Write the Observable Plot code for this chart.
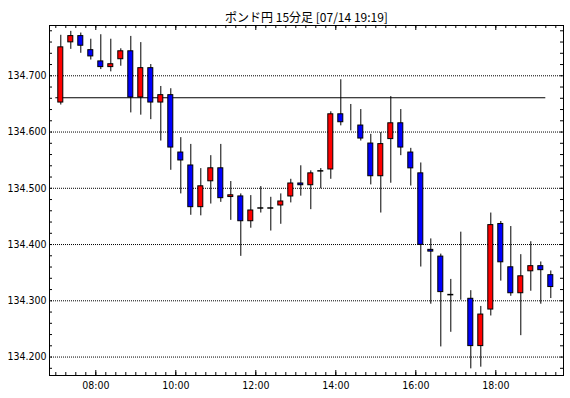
<!DOCTYPE html>
<html>
<head>
<meta charset="utf-8">
<script src="https://cdn.jsdelivr.net/npm/d3@7"></script>
<script src="https://cdn.jsdelivr.net/npm/@observablehq/plot@0.6"></script>
<style>
  html, body { margin: 0; padding: 0; background: #fff; }
  #chart svg { display: block; }
</style>
</head>
<body>
<div id="chart"></div>
<script>
const title = "ポンド円 15分足 [07/14 19:19]";
const times = ["07:00","07:15","07:30","07:45","08:00","08:15","08:30","08:45",
  "09:00","09:15","09:30","09:45","10:00","10:15","10:30","10:45",
  "11:00","11:15","11:30","11:45","12:00","12:15","12:30","12:45",
  "13:00","13:15","13:30","13:45","14:00","14:15","14:30","14:45",
  "15:00","15:15","15:30","15:45","16:00","16:15","16:30","16:45",
  "17:00","17:15","17:30","17:45","18:00","18:15","18:30","18:45",
  "19:00","19:15"];
const open = [134.648,134.755,134.775,134.750,134.730,134.711,134.725,134.748,
  134.657,134.718,134.648,134.670,134.568,134.545,134.462,134.508,
  134.540,134.480,134.490,134.437,134.465,134.465,134.465,134.481,
  134.513,134.501,134.531,134.529,134.636,134.613,134.616,134.584,
  134.517,134.583,134.620,134.568,134.531,134.395,134.383,134.311,
  134.311,134.308,134.215,134.280,134.441,134.364,134.309,134.348,
  134.366,134.350];
const high = [134.772,134.779,134.776,134.765,134.773,134.765,134.748,134.770,
  134.759,134.720,134.681,134.677,134.590,134.578,134.535,134.558,
  134.578,134.512,134.490,134.487,134.503,134.484,134.490,134.516,
  134.540,134.531,134.535,134.636,134.693,134.649,134.640,134.596,
  134.599,134.663,134.640,134.571,134.545,134.410,134.383,134.338,
  134.422,134.318,134.290,134.456,134.441,134.432,134.382,134.405,
  134.369,134.353];
const low = [134.648,134.747,134.740,134.728,134.711,134.707,134.717,134.634,
  134.630,134.622,134.584,134.532,134.490,134.452,134.451,134.472,
  134.475,134.443,134.379,134.429,134.456,134.424,134.436,134.474,
  134.486,134.462,134.499,134.516,134.611,134.602,134.584,134.506,
  134.456,134.509,134.558,134.504,134.360,134.294,134.218,134.244,
  134.301,134.179,134.182,134.273,134.335,134.308,134.238,134.317,
  134.294,134.304];
const close = [134.755,134.775,134.749,134.730,134.711,134.725,134.748,134.657,
  134.718,134.648,134.670,134.568,134.545,134.462,134.508,134.540,
  134.478,134.492,134.437,134.465,134.465,134.465,134.481,134.513,
  134.501,134.531,134.531,134.636,134.613,134.616,134.584,134.517,
  134.583,134.620,134.568,134.531,134.395,134.383,134.311,134.311,
  134.309,134.215,134.280,134.439,134.364,134.309,134.348,134.366,
  134.350,134.320];
const refLevel = 134.661;
const yLabelTicks = [134.2, 134.3, 134.4, 134.5, 134.6, 134.7];
const xStart = "06:50:33", xEnd = "19:41:33";
const yMin = 134.1672, yMax = 134.7894;

const toDate = (s) => {
  const [h, m, sec = 0] = s.split(":").map(Number);
  return new Date(Date.UTC(2020, 6, 14, h, m, sec));
};
const MIN15 = 15 * 60 * 1000;
const data = times.map((t, i) => {
  const t0 = toDate(t);
  return {t0, t1: new Date(+t0 + MIN15), tm: new Date(+t0 + MIN15 / 2),
    open: open[i], high: high[i], low: low[i], close: close[i]};
});
const dojis = data.filter(d => Math.abs(d.close - d.open) < 0.002);

const W = 570, H = 398, mL = 49, mR = 7, mT = 25, mB = 23;
const frameH = H - mT - mB, frameW = W - mL - mR;
const xDomain = [toDate(xStart), toDate(xEnd)];
const xMinor = d3.utcMinute.every(15).range(xDomain[0], xDomain[1]);
const xMajor = d3.utcHour.every(2).range(xDomain[0], xDomain[1]);
const yMinor = d3.range(134.18, 134.7801, 0.02).map(v => +v.toFixed(2));
const font = "'DejaVu Sans Condensed', 'DejaVu Sans', sans-serif";

const chart = Plot.plot({
  width: W, height: H,
  marginLeft: mL, marginRight: mR, marginTop: mT, marginBottom: mB,
  style: {fontFamily: font, fontSize: "10.5px", background: "#fff", color: "#000"},
  x: {type: "utc", domain: xDomain, axis: null},
  y: {domain: [yMin, yMax], axis: null},
  marks: [
    Plot.ruleY(yLabelTicks, {y: d => d, stroke: "#000", strokeWidth: 1, strokeDasharray: "1,1"}),
    Plot.ruleY([refLevel], {y: d => d, x1: data[0].t0, x2: data[data.length - 1].t0, stroke: "#000", strokeWidth: 1.2}),
    Plot.tickX(xMinor, {x: d => d, insetBottom: frameH - 3, stroke: "#000"}),
    Plot.tickX(xMinor, {x: d => d, insetTop: frameH - 3, stroke: "#000"}),
    Plot.tickX(xMajor, {x: d => d, insetBottom: frameH - 5, stroke: "#000"}),
    Plot.tickX(xMajor, {x: d => d, insetTop: frameH - 5, stroke: "#000"}),
    Plot.tickY(yMinor, {y: d => d, insetRight: frameW - 3, stroke: "#000"}),
    Plot.tickY(yMinor, {y: d => d, insetLeft: frameW - 3, stroke: "#000"}),
    Plot.ruleX(data, {x: "tm", y1: "low", y2: "high", stroke: "#000", strokeWidth: 1}),
    Plot.rect(data, {x1: "t0", x2: "t1", y1: "open", y2: "close", inset: 2.5,
      fill: d => d.close >= d.open ? "#ff0000" : "#0000ff", stroke: "#000", strokeWidth: 1}),
    Plot.ruleY(dojis, {y: "close", x1: "t0", x2: "t1", insetLeft: 2, insetRight: 2, stroke: "#000", strokeWidth: 1.5}),
    Plot.frame({stroke: "#000", strokeWidth: 1}),
    Plot.axisY(yLabelTicks, {anchor: "left", tickSize: 0, tickPadding: 3, tickFormat: d3.format(".3f"), label: null, fontSize: 10.5}),
    Plot.axisX(xMajor, {anchor: "bottom", tickSize: 0, tickPadding: 6, tickFormat: d3.utcFormat("%H:%M"), label: null, fontSize: 10.5}),
    Plot.text([title], {text: d => d, frameAnchor: "top", dy: -12, fontSize: 12,
      fontFamily: "'Noto Sans CJK JP', sans-serif", fill: "#000"})
  ]
});
document.getElementById("chart").appendChild(chart);
</script>
</body>
</html>
